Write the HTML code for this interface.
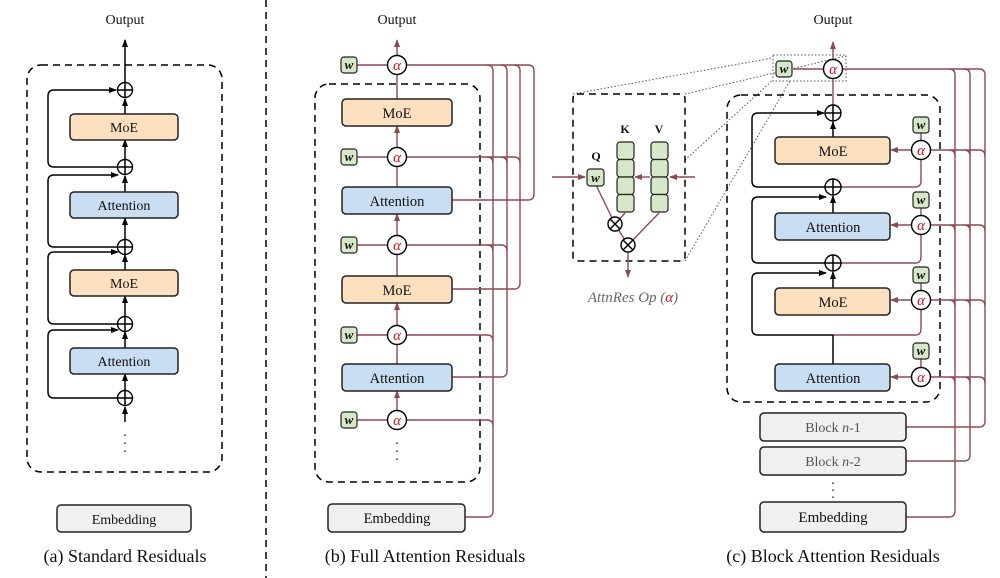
<!DOCTYPE html>
<html><head><meta charset="utf-8"><style>
body{margin:0;background:#fff}
svg{display:block}
text{font-family:"Liberation Serif",serif;fill:#111}
</style></head><body>
<svg width="1000" height="578" viewBox="0 0 1000 578" xmlns="http://www.w3.org/2000/svg">
<defs>
<marker id="ab" markerWidth="8" markerHeight="8" refX="7" refY="4" orient="auto" markerUnits="userSpaceOnUse"><path d="M0,1 L8,4 L0,7 Z" fill="#000"/></marker>
<marker id="ar" markerWidth="8" markerHeight="8" refX="7" refY="4" orient="auto" markerUnits="userSpaceOnUse"><path d="M0,1 L8,4 L0,7 Z" fill="#8b4a52"/></marker>
</defs>
<style>
.blk{stroke:#000;stroke-width:1.5;fill:none}
.red{stroke:#8b4a52;stroke-width:1.4;fill:none}
.dash{stroke:#000;stroke-width:1.5;fill:none;stroke-dasharray:7,5}
.dot{stroke:#555;stroke-width:1;fill:none;stroke-dasharray:1.5,2}
.moe{fill:#fde0c0;stroke:#222;stroke-width:1.5}
.att{fill:#c9ddf3;stroke:#222;stroke-width:1.5}
.emb{fill:#f0f0f0;stroke:#222;stroke-width:1.5}
.wb{fill:#d6e8c8;stroke:#222;stroke-width:1.2}
.ci{fill:#fff;stroke:#000;stroke-width:1.4}
</style>

<!-- divider -->
<line x1="266" y1="0" x2="266" y2="578" class="dash"/>

<!-- ============ Panel A ============ -->
<text x="125" y="24" font-size="14" text-anchor="middle">Output</text>
<rect x="27" y="65" width="195" height="407" rx="14" class="dash"/>
<line x1="125" y1="82" x2="125" y2="40" class="blk" marker-end="url(#ab)"/>
<line x1="125" y1="114" x2="125" y2="99" class="blk" marker-end="url(#ab)"/>
<line x1="125" y1="159" x2="125" y2="140" class="blk" marker-end="url(#ab)"/>
<line x1="125" y1="192" x2="125" y2="176" class="blk" marker-end="url(#ab)"/>
<line x1="125" y1="239" x2="125" y2="218" class="blk" marker-end="url(#ab)"/>
<line x1="125" y1="270" x2="125" y2="255" class="blk" marker-end="url(#ab)"/>
<line x1="125" y1="316" x2="125" y2="296" class="blk" marker-end="url(#ab)"/>
<line x1="125" y1="348" x2="125" y2="332" class="blk" marker-end="url(#ab)"/>
<line x1="125" y1="390" x2="125" y2="374" class="blk" marker-end="url(#ab)"/>
<line x1="125" y1="422" x2="125" y2="407" class="blk" marker-end="url(#ab)"/>
<path d="M117,167 H54 Q48,167 48,161 V96 Q48,90 54,90 H116" class="blk" marker-end="url(#ab)"/>
<path d="M117,247 H54 Q48,247 48,241 V181 Q48,175 54,175 H118" class="blk" marker-end="url(#ab)"/>
<path d="M117,324 H54 Q48,324 48,318 V258 Q48,252 54,252 H118" class="blk" marker-end="url(#ab)"/>
<path d="M117,398 H54 Q48,398 48,392 V336 Q48,330 54,330 H118" class="blk" marker-end="url(#ab)"/>
<g class="ci">
<circle cx="125" cy="90" r="7.5"/><circle cx="125" cy="167" r="7.5"/><circle cx="125" cy="247" r="7.5"/><circle cx="125" cy="324" r="7.5"/><circle cx="125" cy="398" r="7.5"/>
</g>
<path d="M117.5,90H132.5M125,82.5V97.5 M117.5,167H132.5M125,159.5V174.5 M117.5,247H132.5M125,239.5V254.5 M117.5,324H132.5M125,316.5V331.5 M117.5,398H132.5M125,390.5V405.5" class="blk" stroke-width="1"/>
<rect x="70" y="114" width="108" height="26" rx="4" class="moe"/><text x="124" y="132" font-size="14" text-anchor="middle">MoE</text>
<rect x="70" y="192" width="108" height="26" rx="4" class="att"/><text x="124" y="210" font-size="14" text-anchor="middle">Attention</text>
<rect x="70" y="270" width="108" height="26" rx="4" class="moe"/><text x="124" y="288" font-size="14" text-anchor="middle">MoE</text>
<rect x="70" y="348" width="108" height="26" rx="4" class="att"/><text x="124" y="366" font-size="14" text-anchor="middle">Attention</text>
<text x="125" y="436" font-size="14" text-anchor="middle">.</text><text x="125" y="444" font-size="14" text-anchor="middle">.</text><text x="125" y="452" font-size="14" text-anchor="middle">.</text>
<rect x="57" y="505" width="134" height="27" rx="4" class="emb"/><text x="124" y="524" font-size="14" text-anchor="middle">Embedding</text>
<text x="125" y="562" font-size="18" text-anchor="middle">(a) Standard Residuals</text>

<!-- ============ Panel B ============ -->
<text x="397" y="24" font-size="14" text-anchor="middle">Output</text>
<rect x="315" y="84" width="165" height="398" rx="14" class="dash"/>
<!-- sources -->
<path d="M452,200 H528 Q534,200 534,194 V71 Q534,65 528,65" class="red"/>
<path d="M452,289 H514 Q520,289 520,283 V71 Q520,65 514,65" class="red"/>
<path d="M452,377 H501 Q507,377 507,371 V71 Q507,65 501,65" class="red"/>
<path d="M465,517 H487 Q493,517 493,511 V71 Q493,65 487,65" class="red"/>
<!-- alpha rows -->
<path d="M407,65 H528" class="red"/>
<path d="M407,157 H514 Q520,157 520,163" class="red"/><path d="M500,157 Q507,157 507,163" class="red"/><path d="M487,157 Q493,157 493,163" class="red"/>
<path d="M407,245 H501 Q507,245 507,251" class="red"/><path d="M487,245 Q493,245 493,251" class="red"/>
<path d="M407,335 H487 Q493,335 493,341" class="red"/>
<path d="M407,420 H487 Q493,420 493,426" class="red"/>
<!-- main stack -->
<line x1="397" y1="55" x2="397" y2="40" class="red" marker-end="url(#ar)"/>
<line x1="397" y1="99" x2="397" y2="75" class="red"/>
<line x1="397" y1="147" x2="397" y2="126" class="red" marker-end="url(#ar)"/>
<line x1="397" y1="187" x2="397" y2="167" class="red"/>
<line x1="397" y1="235" x2="397" y2="214" class="red" marker-end="url(#ar)"/>
<line x1="397" y1="276" x2="397" y2="255" class="red"/>
<line x1="397" y1="325" x2="397" y2="303" class="red" marker-end="url(#ar)"/>
<line x1="397" y1="364" x2="397" y2="345" class="red"/>
<line x1="397" y1="410" x2="397" y2="391" class="red" marker-end="url(#ar)"/>
<g>
<line x1="357" y1="65" x2="387" y2="65" class="red"/><line x1="357" y1="157" x2="387" y2="157" class="red"/><line x1="357" y1="245" x2="387" y2="245" class="red"/><line x1="357" y1="335" x2="387" y2="335" class="red"/><line x1="357" y1="420" x2="387" y2="420" class="red"/>
</g>
<g font-size="15" font-style="italic" text-anchor="middle">
<rect x="341" y="57" width="16" height="16" rx="3" class="wb"/><text x="349" y="69" font-size="13" font-weight="bold">w</text>
<rect x="341" y="149" width="16" height="16" rx="3" class="wb"/><text x="349" y="161" font-size="13" font-weight="bold">w</text>
<rect x="341" y="237" width="16" height="16" rx="3" class="wb"/><text x="349" y="249" font-size="13" font-weight="bold">w</text>
<rect x="341" y="327" width="16" height="16" rx="3" class="wb"/><text x="349" y="339" font-size="13" font-weight="bold">w</text>
<rect x="341" y="412" width="16" height="16" rx="3" class="wb"/><text x="349" y="424" font-size="13" font-weight="bold">w</text>
<circle cx="397" cy="65" r="9.5" class="ci"/><text x="397" y="70" style="fill:#d01020">α</text>
<circle cx="397" cy="157" r="9.5" class="ci"/><text x="397" y="162" style="fill:#d01020">α</text>
<circle cx="397" cy="245" r="9.5" class="ci"/><text x="397" y="250" style="fill:#d01020">α</text>
<circle cx="397" cy="335" r="9.5" class="ci"/><text x="397" y="340" style="fill:#d01020">α</text>
<circle cx="397" cy="420" r="9.5" class="ci"/><text x="397" y="425" style="fill:#d01020">α</text>
</g>
<rect x="342" y="99" width="110" height="27" rx="4" class="moe"/><text x="397" y="118" font-size="14.5" text-anchor="middle">MoE</text>
<rect x="342" y="187" width="110" height="27" rx="4" class="att"/><text x="397" y="206" font-size="14.5" text-anchor="middle">Attention</text>
<rect x="342" y="276" width="110" height="27" rx="4" class="moe"/><text x="397" y="295" font-size="14.5" text-anchor="middle">MoE</text>
<rect x="342" y="364" width="110" height="27" rx="4" class="att"/><text x="397" y="383" font-size="14.5" text-anchor="middle">Attention</text>
<text x="397" y="444" font-size="14" text-anchor="middle">.</text><text x="397" y="452" font-size="14" text-anchor="middle">.</text><text x="397" y="460" font-size="14" text-anchor="middle">.</text>
<rect x="328" y="504" width="137" height="28" rx="4" class="emb"/><text x="397" y="523" font-size="14.5" text-anchor="middle">Embedding</text>
<text x="425" y="562" font-size="18" text-anchor="middle">(b) Full Attention Residuals</text>

<!-- ============ Inset ============ -->
<path d="M573,94 L772,58 M685,94 L846,56 M685,160 L773,80 M685,261 L790,81" class="dot"/>
<rect x="773" y="55" width="73" height="26" class="dot"/>
<rect x="573" y="94" width="112" height="167" rx="4" class="dash" stroke="#555" stroke-dasharray="6,4" stroke-width="1.3"/>
<text x="596" y="160" font-size="12" font-weight="bold" text-anchor="middle">Q</text>
<text x="625" y="133" font-size="12" font-weight="bold" text-anchor="middle">K</text>
<text x="659" y="133" font-size="12" font-weight="bold" text-anchor="middle">V</text>
<line x1="552" y1="177" x2="585" y2="177" class="red" marker-end="url(#ar)"/>
<line x1="695" y1="177" x2="670" y2="177" class="red" marker-end="url(#ar)"/>
<line x1="650" y1="177" x2="635" y2="177" class="red" marker-end="url(#ar)"/>
<path d="M596,185 L615,224 M625,213 L615,224 M615,224 L628,245 M659,213 L628,245" class="red" stroke-width="1"/>
<line x1="628" y1="253" x2="628" y2="277" class="red" marker-end="url(#ar)"/>
<g class="wb">
<rect x="617" y="142" width="17" height="17.5" rx="3"/><rect x="617" y="159.5" width="17" height="17.5" rx="3"/><rect x="617" y="177" width="17" height="17.5" rx="3"/><rect x="617" y="194.5" width="17" height="17.5" rx="3"/>
<rect x="651" y="142" width="17" height="17.5" rx="3"/><rect x="651" y="159.5" width="17" height="17.5" rx="3"/><rect x="651" y="177" width="17" height="17.5" rx="3"/><rect x="651" y="194.5" width="17" height="17.5" rx="3"/>
<rect x="587" y="169" width="17" height="17" rx="3"/>
</g>
<text x="595.5" y="182" font-size="13" font-weight="bold" font-style="italic" text-anchor="middle">w</text>
<circle cx="615" cy="224" r="7" class="ci" stroke-width="1"/><path d="M610,219 L620,229 M620,219 L610,229" class="blk" stroke-width="1"/>
<circle cx="628" cy="245" r="7" class="ci" stroke-width="1"/><path d="M623,240 L633,250 M633,240 L623,250" class="blk" stroke-width="1"/>
<text x="633" y="302" font-size="15" font-style="italic" text-anchor="middle" style="fill:#666">AttnRes Op (<tspan style="fill:#d01020">α</tspan>)</text>

<!-- ============ Panel C ============ -->
<text x="833" y="24" font-size="14" text-anchor="middle">Output</text>
<rect x="727" y="95" width="213" height="307" rx="14" class="dash"/>
<!-- sources -->
<path d="M906,427 H979 Q985,427 985,421 V75 Q985,69 979,69" class="red"/>
<path d="M906,461 H964 Q970,461 970,455 V75 Q970,69 964,69" class="red"/>
<path d="M906,517 H949 Q955,517 955,511 V75 Q955,69 949,69" class="red"/>
<path d="M843,69 H979" class="red"/>
<g class="red">
<path d="M931,150 H979 Q985,150 985,156 M949,150 Q955,150 955,156 M964,150 Q970,150 970,156"/>
<path d="M931,225 H979 Q985,225 985,231 M949,225 Q955,225 955,231 M964,225 Q970,225 970,231"/>
<path d="M931,300 H979 Q985,300 985,306 M949,300 Q955,300 955,306 M964,300 Q970,300 970,306"/>
<path d="M931,377 H979 Q985,377 985,383 M949,377 Q955,377 955,383 M964,377 Q970,377 970,383"/>
</g>
<!-- right alpha column -->
<g class="red">
<line x1="921" y1="133" x2="921" y2="140"/><line x1="921" y1="208" x2="921" y2="215"/><line x1="921" y1="283" x2="921" y2="290"/><line x1="921" y1="359" x2="921" y2="367"/>
<path d="M921,160 V181 Q921,187 915,187 H839"/>
<path d="M921,235 V257 Q921,263 915,263 H839"/>
<path d="M921,310 V329 Q921,335 915,335 H833"/>
</g>
<line x1="911" y1="150" x2="891" y2="150" class="red" marker-end="url(#ar)"/>
<line x1="911" y1="225" x2="891" y2="225" class="red" marker-end="url(#ar)"/>
<line x1="911" y1="300" x2="891" y2="300" class="red" marker-end="url(#ar)"/>
<line x1="911" y1="377" x2="891" y2="377" class="red" marker-end="url(#ar)"/>
<!-- main stack -->
<line x1="833" y1="59" x2="833" y2="42" class="red" marker-end="url(#ar)"/>
<line x1="833" y1="105" x2="833" y2="79" class="red"/>
<line x1="833" y1="137" x2="833" y2="122" class="blk" marker-end="url(#ab)"/>
<line x1="833" y1="213" x2="833" y2="196" class="blk" marker-end="url(#ab)"/>
<line x1="833" y1="288" x2="833" y2="272" class="blk" marker-end="url(#ab)"/>
<line x1="833" y1="364" x2="833" y2="335" class="blk"/>
<line x1="793" y1="69" x2="823" y2="69" class="red"/>
<path d="M825,187 H758 Q752,187 752,181 V119 Q752,113 758,113 H824" class="blk" marker-end="url(#ab)"/>
<path d="M825,263 H758 Q752,263 752,257 V203 Q752,197 758,197 H826" class="blk" marker-end="url(#ab)"/>
<path d="M833,335 H758 Q752,335 752,329 V279 Q752,273 758,273 H826" class="blk" marker-end="url(#ab)"/>
<g>
<circle cx="833" cy="113" r="8" class="ci"/><circle cx="833" cy="187" r="8" class="ci"/><circle cx="833" cy="263" r="8" class="ci"/>
<path d="M825,113H841M833,105V121 M825,187H841M833,179V195 M825,263H841M833,255V271" class="blk" stroke-width="1"/>
</g>
<g font-size="15" font-style="italic" text-anchor="middle">
<rect x="776" y="61" width="16" height="16" rx="3" class="wb"/><text x="784" y="73" font-size="13" font-weight="bold">w</text>
<rect x="913" y="117" width="16" height="16" rx="3" class="wb"/><text x="921" y="129" font-size="13" font-weight="bold">w</text>
<rect x="913" y="192" width="16" height="16" rx="3" class="wb"/><text x="921" y="204" font-size="13" font-weight="bold">w</text>
<rect x="913" y="267" width="16" height="16" rx="3" class="wb"/><text x="921" y="279" font-size="13" font-weight="bold">w</text>
<rect x="913" y="343" width="16" height="16" rx="3" class="wb"/><text x="921" y="355" font-size="13" font-weight="bold">w</text>
<circle cx="833" cy="69" r="9.5" class="ci"/><text x="833" y="74" style="fill:#d01020">α</text>
<circle cx="921" cy="150" r="9.5" class="ci"/><text x="921" y="155" style="fill:#d01020">α</text>
<circle cx="921" cy="225" r="9.5" class="ci"/><text x="921" y="230" style="fill:#d01020">α</text>
<circle cx="921" cy="300" r="9.5" class="ci"/><text x="921" y="305" style="fill:#d01020">α</text>
<circle cx="921" cy="377" r="9.5" class="ci"/><text x="921" y="382" style="fill:#d01020">α</text>
</g>
<rect x="775" y="137" width="115" height="27" rx="4" class="moe"/><text x="833" y="156" font-size="14.5" text-anchor="middle">MoE</text>
<rect x="775" y="213" width="115" height="27" rx="4" class="att"/><text x="833" y="232" font-size="14.5" text-anchor="middle">Attention</text>
<rect x="775" y="288" width="115" height="27" rx="4" class="moe"/><text x="833" y="307" font-size="14.5" text-anchor="middle">MoE</text>
<rect x="775" y="364" width="115" height="27" rx="4" class="att"/><text x="833" y="383" font-size="14.5" text-anchor="middle">Attention</text>
<rect x="760" y="413" width="146" height="28" rx="4" class="emb"/><text x="833" y="432" font-size="14" text-anchor="middle" style="fill:#555">Block <tspan font-style="italic">n</tspan>-1</text>
<rect x="760" y="447" width="146" height="28" rx="4" class="emb"/><text x="833" y="466" font-size="14" text-anchor="middle" style="fill:#555">Block <tspan font-style="italic">n</tspan>-2</text>
<text x="833" y="484" font-size="14" text-anchor="middle">.</text><text x="833" y="491" font-size="14" text-anchor="middle">.</text><text x="833" y="498" font-size="14" text-anchor="middle">.</text>
<rect x="760" y="502" width="146" height="30" rx="4" class="emb"/><text x="833" y="522" font-size="15" text-anchor="middle">Embedding</text>
<text x="833" y="562" font-size="18" text-anchor="middle">(c) Block Attention Residuals</text>
</svg>
</body></html>
